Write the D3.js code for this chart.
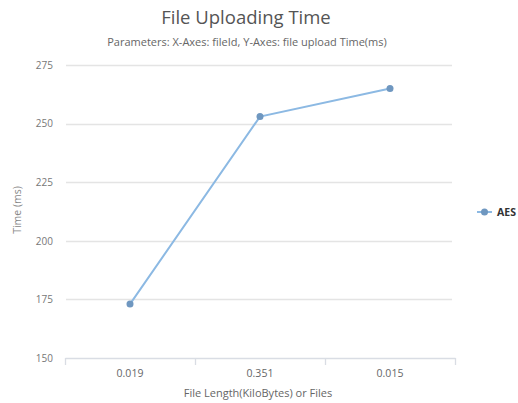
<!DOCTYPE html>
<html lang="en">
<head>
<meta charset="UTF-8">
<title>File Uploading Time</title>
<script src="https://d3js.org/d3.v7.min.js"></script>
<style>
  body { margin: 0; background: #fff; }
  text { font-family: "Open Sans", "DejaVu Sans", sans-serif; }
</style>
</head>
<body>
<script>
  // data
  const categories = ["0.019", "0.351", "0.015"];
  const aesValues = [173, 253, 265];
  const yTicks = [150, 175, 200, 225, 250, 275];

  const W = 518, H = 403;
  const margin = { top: 65, right: 63, bottom: 45, left: 65 };
  const h = 358 - margin.top;

  const svg = d3.select("body").append("svg")
    .attr("width", W)
    .attr("height", H);

  // titles
  svg.append("text")
    .attr("x", 246).attr("y", 24)
    .attr("text-anchor", "middle")
    .attr("font-size", 18.5)
    .attr("fill", "#555")
    .text("File Uploading Time");

  svg.append("text")
    .attr("x", 247).attr("y", 46)
    .attr("text-anchor", "middle")
    .attr("font-size", 11)
    .attr("fill", "#666")
    .text("Parameters: X-Axes: fileId, Y-Axes: file upload Time(ms)");

  const g = svg.append("g")
    .attr("transform", "translate(" + margin.left + "," + margin.top + ")");

  const x = d3.scaleBand()
    .domain(categories)
    .range([0, 390]);

  const y = d3.scaleLinear()
    .domain([150, 275])
    .range([h, 0]);

  // gridlines
  g.append("g")
    .selectAll("line")
    .data(yTicks.slice(1))
    .enter().append("line")
    .attr("x1", 1).attr("x2", 387)
    .attr("y1", d => Math.round(y(d)) + 0.5)
    .attr("y2", d => Math.round(y(d)) + 0.5)
    .attr("stroke", "#e4e4e4")
    .attr("stroke-width", 1.3);

  // y labels
  const yAxis = d3.axisLeft(y).tickValues(yTicks).tickSize(0).tickPadding(12);
  const ya = g.append("g").call(yAxis);
  ya.select(".domain").remove();
  ya.selectAll("text").attr("font-size", 10).attr("fill", "#777").attr("dy", "0.32em");

  // x axis
  const xAxis = d3.axisBottom(x).tickSize(0).tickPadding(12);
  const xa = g.append("g")
    .attr("transform", "translate(0," + h + ")")
    .call(xAxis);
  xa.select(".domain").attr("stroke", "#d9dde4").attr("stroke-width", 1.3);
  xa.selectAll("text").attr("font-size", 10.5).attr("fill", "#666");

  // band boundary ticks
  const bounds = [0].concat(categories.map(c => x(c) + x.bandwidth()));
  xa.selectAll(".bound")
    .data(bounds)
    .enter().append("line")
    .attr("class", "bound")
    .attr("x1", d => d + 0.5).attr("x2", d => d + 0.5)
    .attr("y1", 0).attr("y2", 7)
    .attr("stroke", "#d9dde4")
    .attr("stroke-width", 1.3);

  // axis titles
  svg.append("text")
    .attr("x", 258).attr("y", 397)
    .attr("text-anchor", "middle")
    .attr("font-size", 11)
    .attr("fill", "#666")
    .text("File Length(KiloBytes) or Files");

  svg.append("text")
    .attr("transform", "translate(21,210) rotate(-90)")
    .attr("text-anchor", "middle")
    .attr("font-size", 10.5)
    .attr("fill", "#888")
    .text("Time (ms)");

  // line
  const cx = d => x(d) + x.bandwidth() / 2;
  const line = d3.line()
    .x((d, i) => cx(categories[i]))
    .y(d => y(d));

  g.append("path")
    .datum(aesValues)
    .attr("fill", "none")
    .attr("stroke", "#8cb9e3")
    .attr("stroke-width", 2)
    .attr("d", line);

  g.selectAll(".pt")
    .data(aesValues)
    .enter().append("circle")
    .attr("class", "pt")
    .attr("cx", (d, i) => cx(categories[i]))
    .attr("cy", d => y(d))
    .attr("r", 3.5)
    .attr("fill", "#6f97c0");

  // legend
  const lg = svg.append("g").attr("transform", "translate(477,212)");
  lg.append("line")
    .attr("x1", 0).attr("x2", 15)
    .attr("stroke", "#8cb9e3").attr("stroke-width", 2);
  lg.append("circle")
    .attr("cx", 7.5).attr("r", 3.5)
    .attr("fill", "#6f97c0");
  lg.append("text")
    .attr("x", 20).attr("y", 4)
    .attr("font-size", 10.5)
    .attr("font-weight", "bold")
    .attr("fill", "#333")
    .text("AES");
</script>
</body>
</html>
